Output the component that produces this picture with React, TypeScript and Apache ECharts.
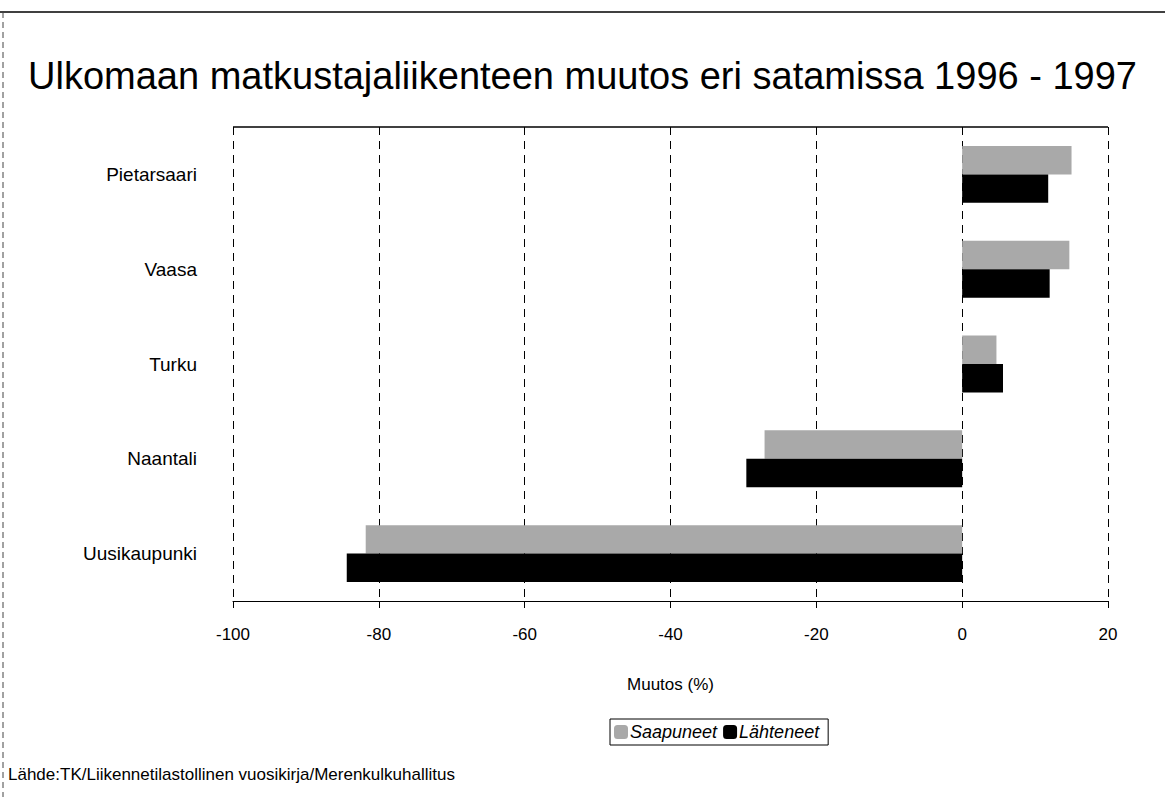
import React, { useEffect, useRef } from "react";
import * as echarts from "echarts";

const ports = ["Pietarsaari", "Vaasa", "Turku", "Naantali", "Uusikaupunki"];
const saapuneet = [15.0, 14.7, 4.7, -27.1, -81.8];
const lahteneet = [11.8, 12.0, 5.6, -29.6, -84.4];
const xTicks = [-100, -80, -60, -40, -20, 0, 20];

const FONT = "Liberation Sans, Arial, sans-serif";

export default function App() {
  const ref = useRef<HTMLDivElement>(null);
  useEffect(() => {
    if (!ref.current) return;
    const chart = echarts.init(ref.current, undefined, { renderer: "svg" });
    chart.setOption({
      animation: false,
      backgroundColor: "#ffffff",
      textStyle: { fontFamily: FONT, color: "#000" },
      title: {
        text: "Ulkomaan matkustajaliikenteen muutos eri satamissa 1996 - 1997",
        left: "center",
        top: 52,
        textStyle: { fontFamily: FONT, fontSize: 38, fontWeight: "normal", color: "#000" },
      },
      legend: {
        data: ["Saapuneet", "Lähteneet"],
        left: 610,
        top: 719,
        itemWidth: 14,
        itemHeight: 14,
        itemGap: 6,
        padding: [4, 9, 4, 4],
        borderColor: "#000",
        borderWidth: 1,
        borderRadius: 0,
        textStyle: { fontFamily: FONT, fontSize: 18, fontStyle: "italic", color: "#000", padding: [0, 0, 0, -3] },
      },
      grid: { left: 233, right: 57, top: 127, bottom: 196, containLabel: false },
      xAxis: {
        type: "value",
        min: -100,
        max: 20,
        interval: 20,
        name: "Muutos (%)",
        nameLocation: "middle",
        nameGap: 75,
        nameTextStyle: { fontFamily: FONT, fontSize: 17, color: "#000" },
        axisLine: { show: true, lineStyle: { color: "#000", width: 1 } },
        axisTick: { show: true, length: 7, lineStyle: { color: "#000" } },
        axisLabel: {
          fontFamily: FONT,
          fontSize: 17,
          color: "#000",
          margin: 25,
          formatter: (v: number) => (xTicks.includes(v) ? String(v) : ""),
        },
        splitLine: { show: true, lineStyle: { color: "#000", type: [8, 6], width: 1 } },
      },
      yAxis: {
        type: "category",
        data: ports,
        inverse: true,
        axisLine: { show: false },
        axisTick: { show: false },
        axisLabel: { fontFamily: FONT, fontSize: 19, color: "#000", margin: 36 },
        splitLine: { show: false },
      },
      series: [
        {
          name: "Saapuneet",
          type: "bar",
          data: saapuneet,
          barGap: "0%",
          barCategoryGap: "40%",
          itemStyle: { color: "#a9a9a9" },
        },
        {
          name: "Lähteneet",
          type: "bar",
          data: lahteneet,
          itemStyle: { color: "#000000" },
        },
      ],
      graphic: [
        { type: "line", shape: { x1: 0, y1: 12, x2: 1165, y2: 12 }, style: { stroke: "#000", lineWidth: 1.5 } },
        { type: "line", shape: { x1: 3, y1: 12, x2: 3, y2: 797 }, style: { stroke: "#444", lineWidth: 1, lineDash: [6, 4] } },
        { type: "line", shape: { x1: 233, y1: 127, x2: 1108, y2: 127 }, style: { stroke: "#000", lineWidth: 1.5 } },
        {
          type: "text",
          left: 8,
          top: 766,
          style: { text: "Lähde:TK/Liikennetilastollinen vuosikirja/Merenkulkuhallitus", font: `17px ${FONT}`, fill: "#000" },
        },
      ],
    });
    return () => chart.dispose();
  }, []);
  return (
    <div
      ref={ref}
      style={{ position: "absolute", left: 0, top: 0, width: 1165, height: 797 }}
    />
  );
}
